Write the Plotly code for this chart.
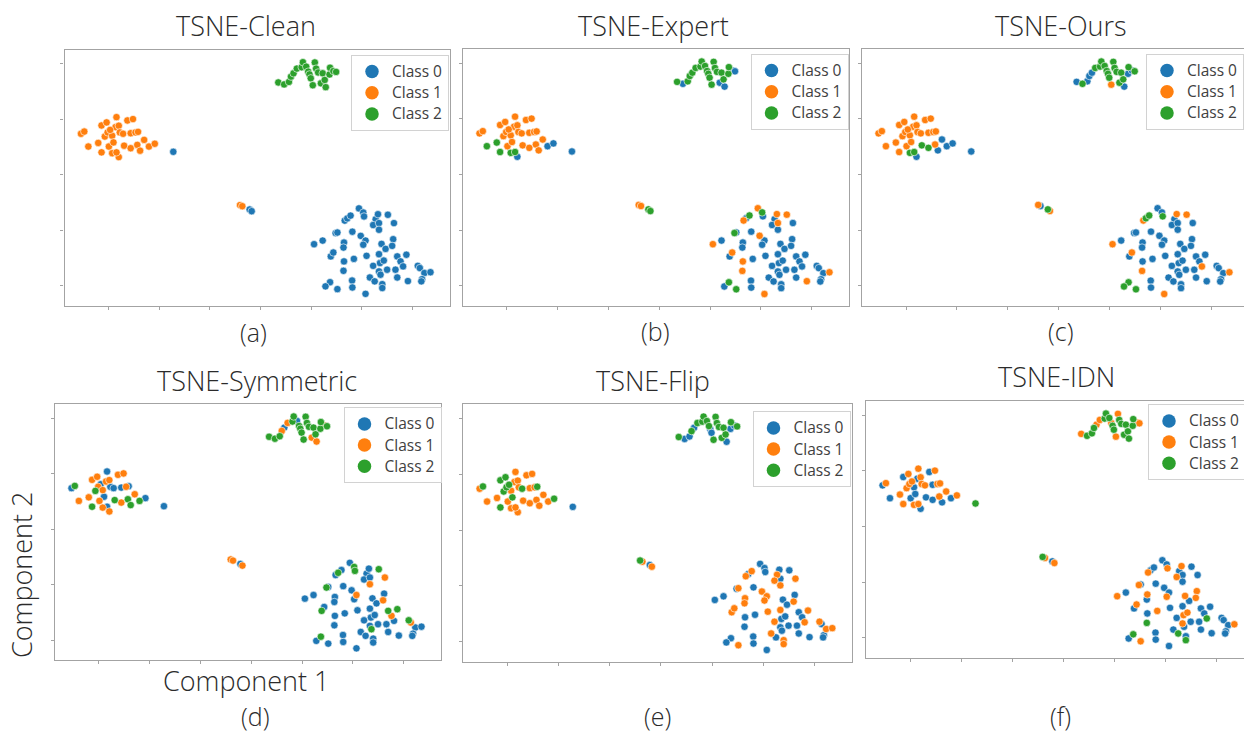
import plotly.graph_objects as go

W, H = 1244, 738

# ---- shared t-SNE embedding (same points in every panel) ----
# order: top cluster (24), left cluster (33), isolated point (1), middle pair (4), bottom-right cluster (63)
emb_x = [
    7.0, 9.3, 11.2, 12.0, 13.0, 14.3, 16.2, 16.7, 18.0, 18.8, 19.3, 19.8, 20.6, 21.4, 21.9, 22.7, 23.8, 24.5, 25.3, 25.7, 27.2, 27.4, 28.7, 29.8,
    -70.8, -69.5, -67.9, -64.0, -62.7, -62.7, -60.7, -61.4, -60.3, -59.8, -58.5, -58.0, -58.5, -56.8, -57.2, -55.9, -55.5, -54.2, -55.9, -53.8,
    -52.5, -50.3, -51.2, -49.3, -51.2, -48.6, -47.5, -45.9, -44.0, -41.7, -56.8, -59.3, -48.3,
    -34.4,
    -8.1, -7.2, -4.3, -3.5,
    21.1, 24.5, 27.7, 28.7, 29.6, 30.3, 32.9, 32.7, 32.9, 32.7, 33.2, 34.2, 35.5, 36.2, 36.8, 36.1, 36.2, 27.4, 25.6, 30.3,
    38.8, 40.5, 40.8, 45.4, 44.4, 46.7, 46.7, 46.3, 50.2, 52.6, 39.5, 41.4, 40.5, 41.8, 44.4, 46.7, 47.1, 48.6, 47.7, 49.3,
    52.3, 51.9, 53.9, 55.2, 56.2, 57.5, 53.2, 49.9, 46.7, 47.3, 43.1, 45.0, 48.0, 48.0, 41.4, 53.9, 58.1, 62.0, 62.8, 64.6,
    67.0, 63.7, 63.4,
]
emb_y = [
    33.3, 32.6, 33.5, 35.4, 36.6, 38.3, 38.8, 40.6, 39.0, 37.2, 36.2, 34.8, 32.3, 40.5, 38.3, 36.9, 33.0, 36.6, 34.2, 31.6, 36.2, 38.6, 37.4, 37.1,
    14.8, 15.6, 10.2, 11.5, 8.1, 17.8, 18.9, 13.8, 15.3, 10.2, 14.1, 11.7, 7.8, 20.8, 17.2, 17.7, 15.3, 14.8, 6.4, 10.5,
    19.6, 20.1, 15.0, 15.3, 9.6, 10.8, 8.7, 12.6, 10.2, 11.2, 8.1, 16.2, 15.5,
    8.3,
    -10.9, -11.3, -12.5, -13.1,
    -25.0, -23.7, -29.4, -28.0, -21.0, -20.8, -24.4, -26.2, -31.2, -34.6, -16.5, -15.7, -14.7, -20.5, -30.3, -38.1, -40.6, -38.7, -40.2, -41.2,
    -12.1, -13.6, -15.0, -16.0, -18.1, -17.4, -19.8, -14.2, -14.4, -17.4, -22.0, -23.7, -25.2, -29.2, -32.8, -28.6, -31.8, -30.9, -24.9, -26.7,
    -23.2, -25.6, -29.4, -31.2, -33.0, -28.8, -34.2, -34.2, -34.8, -36.0, -37.0, -38.4, -39.4, -40.8, -42.9, -37.0, -38.3, -32.8, -33.6, -35.4,
    -35.1, -37.6, -38.4,
]

# ---- class labels of every point, per panel (same order as the embedding) ----
labels_clean = ("2222222222 2222222222 2222"
                "1111111111 1111111111 1111111111 111"
                "0"
                "1100"
                "0000000000 0000000000 0000000000 0000000000 0000000000 0000000000 000")
labels_expert = ("2022222222 2222220220 2200"
                 "1122211111 1121111101 1111111100 211"
                 "0"
                 "1122"
                 "1001200011 1020000202 1200010110 1000000000 0000000000 0000101000 100")
labels_ours = ("0200022222 2212222220 0202"
               "1111111111 1121111102 1111210000 211"
               "0"
               "1021"
               "1001000001 1220000222 0020000110 0000000000 0000100000 0000100000 100")
labels_symmetric = ("2221012202 2222221221 2212"
                    "0211211211 1010110012 1101122120 000"
                    "0"
                    "1101"
                    "0020200000 0200000200 0220001021 0100000000 0121020002 0000000210 000")
labels_flip = ("2002022222 0022222220 0202"
               "1211222221 1211111211 1111111112 122"
               "0"
               "2101"
               "0011011100 1010000001 0001101001 1111110000 0100110000 1011000101 100")
labels_idn = ("1222112221 2211222222 2211"
              "0101101110 0011011100 0101010101 111"
              "2"
              "2101"
              "1001101002 1000100201 0010100100 0010001110 1100200010 0202000000 100")

titles = ["TSNE-Clean", "TSNE-Expert", "TSNE-Ours", "TSNE-Symmetric", "TSNE-Flip", "TSNE-IDN"]
sublabels = ["(a)", "(b)", "(c)", "(d)", "(e)", "(f)"]
class_names = ["Class 0", "Class 1", "Class 2"]
x_tick_vals = [-60, -40, -20, 0, 20, 40, 60]
y_tick_vals = [-40, -20, 0, 20, 40]
x_range = [-77.3, 74.7]
y_range = [-47.1, 45.0]

all_labels = [labels_clean, labels_expert, labels_ours, labels_symmetric, labels_flip, labels_idn]

# ---- styling / layout (pixels in the 1244x738 page) ----
COLORS = ["#1f77b4", "#ff7f0e", "#2ca02c"]
FONT = "Open Sans"
TXT = "#2b2b2b"
FRAME = "#a3a3a3"
# frame of each panel: left, right (may run past the page edge), top, bottom
panel_px = [
    (64.5, 450.0, 50.0, 305.5),
    (463.0, 849.0, 49.3, 305.7),
    (862.0, 1249.0, 49.3, 305.7),
    (55.0, 441.0, 404.3, 660.0),
    (463.0, 852.0, 404.3, 661.7),
    (866.0, 1254.0, 401.3, 657.7),
]
legend_px = [(351, 55), (750.5, 54), (1146, 54), (343.5, 407.3), (752.5, 411.3), (1148, 404.3)]
title_px = [(246, 25), (653, 25), (1061, 25), (257, 380), (653, 380), (1056, 377)]
sub_px = [(253, 332), (655, 331), (1060, 331), (255, 716), (657, 716), (1060, 716)]

fig = go.Figure()
layout = dict(
    width=W, height=H,
    margin=dict(l=0, r=0, t=0, b=0, autoexpand=False),
    paper_bgcolor="white", plot_bgcolor="white",
    showlegend=True,
    font=dict(family=FONT, color=TXT),
)
annotations = []

for i in range(6):
    sfx = "" if i == 0 else str(i + 1)
    xa, ya = "x" + sfx, "y" + sfx
    leg = "legend" + sfx
    left, right, top, bottom = panel_px[i]
    vis_right = min(right, W)
    x_end = x_range[0] + (x_range[1] - x_range[0]) * (vis_right - left) / (right - left)
    clipped = right > W

    labs = [int(c) for c in all_labels[i].replace(" ", "")]
    for k in range(3):
        xs = [emb_x[j] for j in range(len(labs)) if labs[j] == k]
        ys = [emb_y[j] for j in range(len(labs)) if labs[j] == k]
        fig.add_trace(go.Scatter(
            x=xs, y=ys, mode="markers", xaxis=xa, yaxis=ya,
            marker=dict(size=7.4, color=COLORS[k], line=dict(width=0.6, color="white")),
            showlegend=False, hoverinfo="skip"))
    for k in range(3):
        fig.add_trace(go.Scatter(
            x=[None], y=[None], mode="markers", xaxis=xa, yaxis=ya,
            marker=dict(size=13.5, color=COLORS[k]),
            name='<span style="font-size:15.5px">' + class_names[k] + "</span>",
            legend=leg, showlegend=True, hoverinfo="skip"))

    axis_common = dict(showline=True, linecolor=FRAME, linewidth=1.4,
                       ticks="outside", ticklen=3, tickwidth=1, tickcolor=FRAME,
                       showticklabels=False, showgrid=False, zeroline=False, fixedrange=True)
    layout["xaxis" + sfx] = dict(axis_common, domain=[left / W, vis_right / W],
                                 range=[x_range[0], x_end], tickvals=x_tick_vals,
                                 anchor=ya, mirror=True)
    layout["yaxis" + sfx] = dict(axis_common, domain=[1 - bottom / H, 1 - top / H],
                                 range=y_range, tickvals=y_tick_vals,
                                 anchor=xa, mirror=not clipped)
    lx, ly = legend_px[i]
    layout[leg] = dict(x=lx / W, y=1 - ly / H, xanchor="left", yanchor="top",
                       xref="paper", yref="paper",
                       bgcolor="rgba(255,255,255,0.85)", bordercolor="#d2d2d2", borderwidth=1,
                       font=dict(family=FONT, size=14, color="#404040"),
                       tracegroupgap=0, itemwidth=30)

    tx, ty = title_px[i]
    annotations.append(dict(text=titles[i], x=tx / W, y=1 - ty / H, xref="paper", yref="paper",
                            xanchor="center", yanchor="middle", showarrow=False,
                            font=dict(family=FONT, size=27, color=TXT, weight=300)))
    sx, sy = sub_px[i]
    annotations.append(dict(text=sublabels[i], x=sx / W, y=1 - sy / H, xref="paper", yref="paper",
                            xanchor="center", yanchor="middle", showarrow=False,
                            font=dict(family=FONT, size=25, color=TXT, weight=300)))

annotations.append(dict(text="Component 2", x=21 / W, y=1 - 575 / H, xref="paper", yref="paper",
                        xanchor="center", yanchor="middle", showarrow=False, textangle=-90,
                        font=dict(family=FONT, size=27, color=TXT, weight=300)))
annotations.append(dict(text="Component 1", x=246 / W, y=1 - 680 / H, xref="paper", yref="paper",
                        xanchor="center", yanchor="middle", showarrow=False,
                        font=dict(family=FONT, size=27, color=TXT, weight=300)))
layout["annotations"] = annotations
fig.update_layout(**layout)
fig.write_html("out.html")
